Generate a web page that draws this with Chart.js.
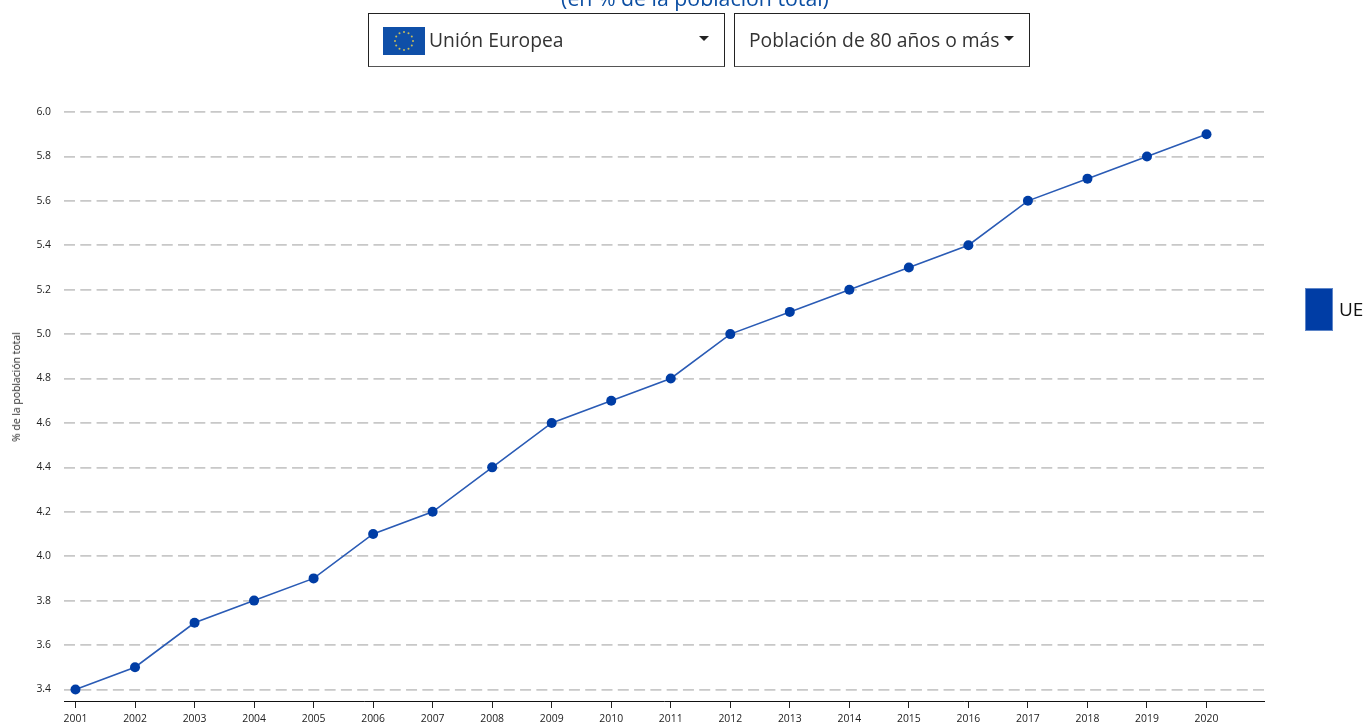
<!DOCTYPE html>
<html lang="es">
<head>
<meta charset="utf-8">
<title>Población de 80 años o más</title>
<script src="https://cdn.jsdelivr.net/npm/chart.js@4"></script>
<style>
    html, body {
        margin: 0;
        padding: 0;
        background: white;
        overflow: hidden;
        font-family: "Open Sans", sans-serif;
    }
    #page {
        position: relative;
        width: 1367px;
        height: 724px;
        overflow: hidden;
    }
    #grafico {
        position: absolute;
        left: 0;
        top: 0;
    }
    #titulo {
        position: absolute;
        left: 0;
        width: 1390px;
        top: -14px;
        text-align: center;
        color: #0b4ea2;
        font-size: 21.3px;
        line-height: 24px;
        white-space: nowrap;
    }
    .caixa {
        position: absolute;
        top: 13px;
        height: 52px;
        border: 1px solid #222;
        border-bottom-color: #555;
        font-size: 19.3px;
        line-height: 52px;
        color: #333;
        white-space: nowrap;
        box-sizing: content-box;
    }
    .caixa span {
        position: absolute;
        top: 0;
    }
    .seta {
        position: absolute;
        width: 0;
        height: 0;
        border-left: 5.5px solid transparent;
        border-right: 5.5px solid transparent;
        border-top: 5px solid #222;
    }
    #bandeira {
        position: absolute;
        left: 14px;
        top: 13px;
        width: 42px;
        height: 28px;
    }
    #eixo-y {
        position: absolute;
        left: 15.5px;
        top: 386.5px;
        font-size: 10.4px;
        color: #222;
        white-space: nowrap;
        transform: translate(-50%, -50%) rotate(-90deg);
    }
    #legenda-cor {
        position: absolute;
        left: 1305px;
        top: 288px;
        width: 26px;
        height: 41px;
        background: #003da5;
        border: 1px solid #5f86c8;
    }
    #legenda-txt {
        position: absolute;
        left: 1339px;
        top: 297px;
        font-size: 19px;
        line-height: 24px;
        color: #111;
    }
</style>
</head>
<body>
<div id="page">
    <canvas id="grafico" width="1367" height="724"></canvas>
    <div id="titulo">(en % de la población total)</div>

    <div class="caixa" style="left:368px;width:355px;">
        <svg id="bandeira" viewBox="0 0 42 28">
            <rect width="42" height="28" fill="#0f4fa8"></rect>
            <g id="estrelas" fill="#c9bd5a"></g>
        </svg>
        <span style="left:60px;">Unión Europea</span>
        <div class="seta" style="left:330px;top:22px;"></div>
    </div>
    <div class="caixa" style="left:734px;width:294px;">
        <span style="left:14px;">Población de 80 años o más</span>
        <div class="seta" style="left:269px;top:22px;"></div>
    </div>

    <div id="eixo-y">% de la población total</div>
    <div id="legenda-cor"></div>
    <div id="legenda-txt">UE</div>
</div>

<script>
var anos = [2001, 2002, 2003, 2004, 2005, 2006, 2007, 2008, 2009, 2010,
            2011, 2012, 2013, 2014, 2015, 2016, 2017, 2018, 2019, 2020];
var poblacion = [3.4, 3.5, 3.7, 3.8, 3.9, 4.1, 4.2, 4.4, 4.6, 4.7,
                 4.8, 5.0, 5.1, 5.2, 5.3, 5.4, 5.6, 5.7, 5.8, 5.9];
var ticksY = [3.4, 3.6, 3.8, 4.0, 4.2, 4.4, 4.6, 4.8, 5.0, 5.2, 5.4, 5.6, 5.8, 6.0];

// estrelas da bandeira
var estrelas = document.getElementById("estrelas");
for (let i = 0; i < 12; i++) {
    let a = i * Math.PI / 6;
    let c = document.createElementNS("http://www.w3.org/2000/svg", "circle");
    c.setAttribute("cx", 21 + 9 * Math.sin(a));
    c.setAttribute("cy", 14 - 9 * Math.cos(a));
    c.setAttribute("r", 1);
    estrelas.appendChild(c);
}

var context = document.getElementById("grafico");

var chartGraph = new Chart(context, {
    type: "line",
    data: {
        datasets: [{
            label: "UE",
            data: anos.map(function (ano, i) {
                return { x: ano, y: poblacion[i] };
            }),
            borderWidth: 1.6,
            borderColor: "#2a5bb5",
            backgroundColor: "#003da5",
            pointBackgroundColor: "#003da5",
            pointBorderColor: "#003da5",
            pointRadius: 5,
            pointBorderWidth: 0,
            tension: 0,
            fill: false,
            clip: false
        }]
    },
    options: {
        responsive: false,
        animation: false,
        layout: {
            padding: {
                top: 112,
                right: 103,
                left: 0,
                bottom: 0
            }
        },
        plugins: {
            legend: {
                display: false
            },
            tooltip: {
                enabled: false
            }
        },
        scales: {
            x: {
                type: "linear",
                min: 2000.807,
                max: 2020.966,
                afterBuildTicks: function (axis) {
                    axis.ticks = anos.map(function (ano) {
                        return { value: ano };
                    });
                },
                afterFit: function (axis) {
                    axis.height = 23;
                },
                ticks: {
                    color: "#222",
                    font: { family: "'Open Sans'", size: 10.4 },
                    padding: 5,
                    maxRotation: 0,
                    autoSkip: false,
                    callback: function (value) {
                        return String(value);
                    }
                },
                grid: {
                    drawOnChartArea: false,
                    drawTicks: true,
                    tickLength: 7,
                    tickColor: "#222",
                    tickWidth: 1
                },
                border: {
                    color: "#111",
                    width: 1
                }
            },
            y: {
                type: "linear",
                min: 3.348,
                max: 6.0,
                afterBuildTicks: function (axis) {
                    axis.ticks = ticksY.map(function (v) {
                        return { value: v };
                    });
                },
                afterFit: function (axis) {
                    axis.width = 64;
                },
                ticks: {
                    color: "#222",
                    font: { family: "'Open Sans'", size: 10.4 },
                    padding: 13,
                    autoSkip: false,
                    callback: function (value) {
                        return value.toFixed(1);
                    }
                },
                grid: {
                    color: "#c8c8c8",
                    lineWidth: 1.7,
                    drawTicks: false
                },
                border: {
                    display: false,
                    dash: [11, 5.288]
                }
            }
        }
    }
});
</script>
</body>
</html>
